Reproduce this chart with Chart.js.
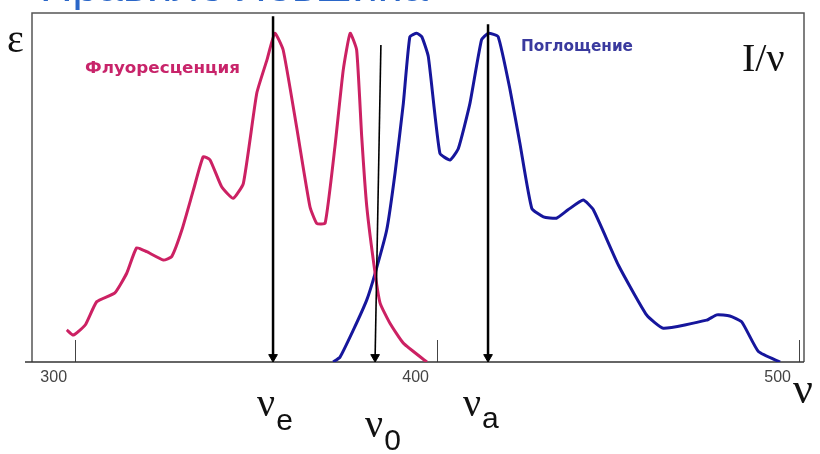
<!DOCTYPE html>
<html>
<head>
<meta charset="utf-8">
<script src="https://cdn.jsdelivr.net/npm/chart.js@4"></script>
<style>
  html, body { margin: 0; padding: 0; background: #fff; }
  canvas { display: block; }
</style>
</head>
<body>
<canvas id="levshin" width="820" height="454"></canvas>
<script>
// --- данные (x — частота, y — относительная интенсивность 0..100) ---
const fluorX = [297.7, 299.5, 302.8, 306.0, 311.0, 314.3, 317.0, 319.8, 324.4, 326.7, 329.5, 332.7,
                335.4, 337.3, 340.5, 343.7, 346.5, 350.2, 353.0, 355.2, 357.5, 361.2, 364.9, 366.8,
                369.1, 371.8, 374.1, 376.0, 377.8, 379.2, 380.6, 382.9, 384.3, 387.0, 390.7, 397.2];
const fluorY = [9.2, 7.7, 10.6, 17.3, 19.8, 25.5, 32.7, 31.6, 29.2, 30.2, 37.8, 49.3,
                58.8, 57.9, 50.2, 46.9, 51.2, 77.0, 86.5, 94.2, 89.4, 67.4, 44.5, 39.7,
                39.8, 61.7, 83.7, 94.2, 89.4, 64.5, 44.5, 25.4, 16.8, 11.1, 5.4, 0];

const absX = [371.3, 373.2, 376.9, 380.6, 382.9, 386.1, 388.4, 390.7, 392.5, 394.4, 395.8, 397.6,
              400.8, 403.6, 405.9, 409.1, 412.3, 414.2, 416.9, 420.2, 422.9, 426.2, 429.4, 433.0,
              436.2, 440.4, 443.2, 450.1, 457.9, 462.5, 474.5, 477.3, 480.9, 484.2, 488.8, 494.8];
const absY = [0, 1.4, 9.2, 17.8, 25.4, 37.8, 54.1, 74.1, 93.2, 94.2, 93.2, 87.5,
              59.8, 57.9, 61.2, 74.1, 92.3, 94.2, 93.2, 77.9, 62.7, 44.0, 41.6, 41.2,
              43.6, 46.4, 43.6, 27.8, 13.5, 9.7, 12.0, 13.5, 13.2, 11.5, 3.0, 0];

// стрелки: [верх, низ]
const arrowEX = [354.7, 354.7], arrowEY = [99.1, 1.4];
const arrow0X = [384.5, 382.9], arrow0Y = [90.8, 1.4];
const arrowAX = [414.1, 414.1], arrowAY = [96.8, 1.4];

const tickVals = [300, 400, 500];
const xMin = 288.1, xMax = 501.4;

const titleText = 'Правило Левшина';
const fluorLabel = 'Флуоресценция';
const absLabel = 'Поглощение';

const PINK = '#cc2163';
const BLUE = '#16169c';

const zip = (xs, ys) => xs.map((x, i) => ({ x: x, y: ys[i] }));

function arrowSet(xs, ys, width) {
    return {
        data: zip(xs, ys),
        borderColor: '#000',
        borderWidth: width,
        pointRadius: [0, 5],
        pointHoverRadius: 0,
        pointStyle: 'triangle',
        pointRotation: 180,
        pointBackgroundColor: '#000',
        pointBorderColor: '#000',
        pointBorderWidth: 1,
        tension: 0,
        order: 0
    };
}

// текст, растянутый до нужной ширины
function fitText(ctx, text, x, y, w) {
    const m = ctx.measureText(text).width;
    ctx.save();
    ctx.translate(x, y);
    ctx.scale(w / m, 1);
    ctx.fillText(text, 0, 0);
    ctx.restore();
}

// ν с индексом под стрелкой
function nuLabel(ctx, px, base, sub, subBase) {
    ctx.font = '40px "Liberation Serif"';
    ctx.fillText('ν', px, base);
    const w = ctx.measureText('ν').width;
    ctx.font = '30px "Liberation Sans"';
    ctx.fillText(sub, px + w + 1, subBase);
}

const decor = {
    id: 'decor',
    beforeDatasetsDraw(chart) {
        const { ctx, chartArea: a } = chart;
        const x = chart.scales.x;
        ctx.save();
        // рамка
        ctx.strokeStyle = '#555';
        ctx.lineWidth = 1.5;
        ctx.beginPath();
        ctx.moveTo(a.left, a.bottom);
        ctx.lineTo(a.left, a.top);
        ctx.lineTo(a.right, a.top);
        ctx.lineTo(a.right, a.bottom);
        ctx.stroke();
        // короткие засечки внутрь
        ctx.strokeStyle = '#444';
        ctx.lineWidth = 1;
        tickVals.forEach(v => {
            const px = Math.round(x.getPixelForValue(v)) + 0.5;
            ctx.beginPath();
            ctx.moveTo(px, a.bottom);
            ctx.lineTo(px, a.bottom - 22);
            ctx.stroke();
        });
        // ось
        ctx.strokeStyle = '#333';
        ctx.lineWidth = 1.5;
        ctx.beginPath();
        ctx.moveTo(a.left - 7, a.bottom);
        ctx.lineTo(a.right, a.bottom);
        ctx.stroke();
        ctx.restore();
    },
    afterDraw(chart) {
        const { ctx, chartArea: a } = chart;
        const x = chart.scales.x;
        ctx.save();
        ctx.textBaseline = 'alphabetic';
        ctx.textAlign = 'left';

        // заголовок (обрезан сверху, как на картинке)
        ctx.fillStyle = '#2a66c8';
        ctx.font = '42px "Liberation Sans"';
        fitText(ctx, titleText, 40, 1, 388);

        // подписи кривых
        ctx.font = 'bold 15px "DejaVu Sans"';
        ctx.fillStyle = '#c8246a';
        fitText(ctx, fluorLabel, 85, 73, 155);
        ctx.fillStyle = '#3a3a9e';
        fitText(ctx, absLabel, 521, 51, 112);

        // оси
        ctx.fillStyle = '#111';
        ctx.font = '40px "Liberation Serif"';
        ctx.fillText('ε', 7, 52);
        ctx.fillText('I/ν', 742, 71);
        ctx.font = '44px "Liberation Serif"';
        ctx.fillText('ν', a.right - 11, 403);

        // частоты под стрелками
        nuLabel(ctx, x.getPixelForValue(arrowEX[1]) - 16, 416, 'e', 430);
        nuLabel(ctx, x.getPixelForValue(arrow0X[1]) - 10, 437, '0', 450);
        nuLabel(ctx, x.getPixelForValue(arrowAX[1]) - 25, 416, 'a', 428);
        ctx.restore();
    }
};

new Chart(document.getElementById('levshin'), {
    type: 'line',
    data: {
        datasets: [
            arrowSet(arrowEX, arrowEY, 2.5),
            arrowSet(arrow0X, arrow0Y, 1.6),
            arrowSet(arrowAX, arrowAY, 2.5),
            {
                data: zip(fluorX, fluorY),
                borderColor: PINK,
                borderWidth: 3,
                pointRadius: 0,
                tension: 0.15,
                order: 1
            },
            {
                data: zip(absX, absY),
                borderColor: BLUE,
                borderWidth: 3,
                pointRadius: 0,
                tension: 0.15,
                order: 1
            }
        ]
    },
    options: {
        responsive: false,
        animation: false,
        devicePixelRatio: 1,
        layout: { padding: { left: 32, right: 16, top: 13, bottom: 0 } },
        plugins: { legend: { display: false }, tooltip: { enabled: false } },
        scales: {
            x: {
                type: 'linear',
                min: xMin,
                max: xMax,
                afterBuildTicks: s => { s.ticks = tickVals.map(v => ({ value: v })); },
                afterFit: s => { s.height = 92; },
                grid: { display: false, drawTicks: false },
                border: { display: false },
                ticks: {
                    align: 'end',
                    padding: 6,
                    labelOffset: -8,
                    color: '#444',
                    font: { family: 'Liberation Sans', size: 16 }
                }
            },
            y: {
                min: 0,
                max: 100,
                display: false
            }
        }
    },
    plugins: [decor]
});
</script>
</body>
</html>
